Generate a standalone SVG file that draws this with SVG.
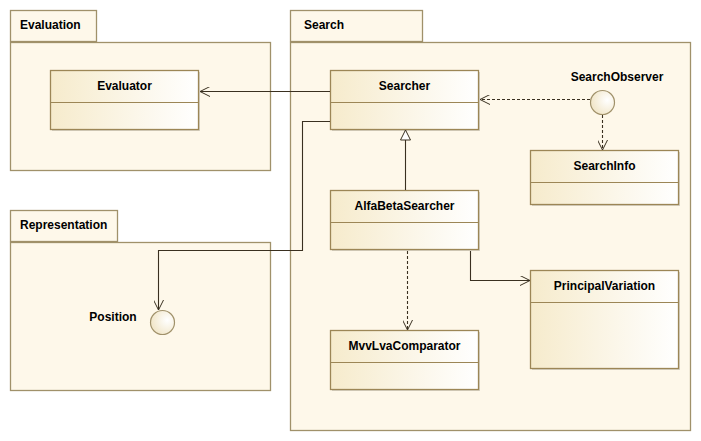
<svg xmlns="http://www.w3.org/2000/svg" width="701" height="441" viewBox="0 0 701 441">
<defs>
<linearGradient id="cg" x1="0" y1="0" x2="1" y2="0">
<stop offset="0" stop-color="#f6ebcc"/>
<stop offset="1" stop-color="#ffffff"/>
</linearGradient>
<radialGradient id="ig" cx="0.7" cy="0.4" r="0.8">
<stop offset="0" stop-color="#ffffff"/>
<stop offset="1" stop-color="#efe2c0"/>
</radialGradient>
<marker id="open" markerWidth="12" markerHeight="10" refX="10" refY="5" orient="auto" markerUnits="userSpaceOnUse">
<path d="M0,0 L10,5 L0,10" fill="none" stroke="#3a3020" stroke-width="1"/>
</marker>
<marker id="tri" markerWidth="14" markerHeight="12" refX="11" refY="6" orient="auto" markerUnits="userSpaceOnUse">
<path d="M1,1 L11,6 L1,11 Z" fill="#ffffff" stroke="#3a3020" stroke-width="1"/>
</marker>
</defs>
<style>
.pkg{fill:#fef8ea;stroke:#a0916a;stroke-width:1.3}
.cls{fill:url(#cg);stroke:#9c8656;stroke-width:1.3}
.sh{fill:#d8d2c4}
.div{stroke:#9c8656;stroke-width:1.2}
.ifc{fill:url(#ig);stroke:#a0916a;stroke-width:1.2}
text{font-family:"Liberation Sans",Arial,sans-serif;font-weight:bold;font-size:12px;fill:#000}
.c{text-anchor:middle}
.ln{fill:none;stroke:#3a3020;stroke-width:1.1}
.dash{stroke-dasharray:3,2}
</style>
<g id="pkg-evaluation">
<rect class="pkg" x="10.5" y="10.5" width="86" height="31"/>
<rect class="pkg" x="10.5" y="42.5" width="260" height="128"/>
<text x="20" y="29">Evaluation</text>
</g>
<g id="pkg-search">
<rect class="pkg" x="290.5" y="10.5" width="132" height="31"/>
<rect class="pkg" x="290.5" y="42.5" width="400" height="388"/>
<text x="304" y="29">Search</text>
</g>
<g id="pkg-representation">
<rect class="pkg" x="10.5" y="210.5" width="107" height="31"/>
<rect class="pkg" x="10.5" y="242.5" width="260" height="148"/>
<text x="20" y="229">Representation</text>
</g>
<g id="Evaluator">
<rect class="sh" x="52" y="72" width="148" height="59"/>
<rect class="cls" x="50.5" y="70.5" width="148" height="59"/>
<line class="div" x1="51" y1="102.5" x2="198" y2="102.5"/>
<text class="c" x="124.5" y="90">Evaluator</text>
</g>
<g id="Searcher">
<rect class="sh" x="332" y="72" width="148" height="59"/>
<rect class="cls" x="330.5" y="70.5" width="148" height="59"/>
<line class="div" x1="331" y1="102.5" x2="478" y2="102.5"/>
<text class="c" x="404.5" y="90">Searcher</text>
</g>
<g id="SearchInfo">
<rect class="sh" x="532" y="152" width="148" height="54"/>
<rect class="cls" x="530.5" y="150.5" width="148" height="54"/>
<line class="div" x1="531" y1="182.5" x2="678" y2="182.5"/>
<text class="c" x="604.5" y="170">SearchInfo</text>
</g>
<g id="AlfaBetaSearcher">
<rect class="sh" x="332" y="192" width="148" height="59"/>
<rect class="cls" x="330.5" y="190.5" width="148" height="59"/>
<line class="div" x1="331" y1="222.5" x2="478" y2="222.5"/>
<text class="c" x="404.5" y="210">AlfaBetaSearcher</text>
</g>
<g id="MvvLvaComparator">
<rect class="sh" x="332" y="332" width="148" height="59"/>
<rect class="cls" x="330.5" y="330.5" width="148" height="59"/>
<line class="div" x1="331" y1="362.5" x2="478" y2="362.5"/>
<text class="c" x="404.5" y="350">MvvLvaComparator</text>
</g>
<g id="PrincipalVariation">
<rect class="sh" x="532" y="272" width="148" height="98"/>
<rect class="cls" x="530.5" y="270.5" width="148" height="98"/>
<line class="div" x1="531" y1="302.5" x2="678" y2="302.5"/>
<text class="c" x="604.5" y="290">PrincipalVariation</text>
</g>
<g id="SearchObserver">
<circle class="ifc" cx="602.5" cy="102.5" r="12"/>
<text class="c" x="617" y="81">SearchObserver</text>
</g>
<g id="Position">
<circle class="ifc" cx="162.5" cy="322.5" r="12"/>
<text class="c" x="113" y="321">Position</text>
</g>
<g id="connectors">
<path class="ln" d="M330,91.5 H200" marker-end="url(#open)"/>
<path class="ln dash" d="M590,99.5 H480" marker-end="url(#open)"/>
<path class="ln dash" d="M602.5,115 V150" marker-end="url(#open)"/>
<path class="ln" d="M405.5,190 V130" marker-end="url(#tri)"/>
<path class="ln" d="M330,121.5 H302.5 V250.5 H158.5 V310" marker-end="url(#open)"/>
<path class="ln dash" d="M407.5,251 V330" marker-end="url(#open)"/>
<path class="ln" d="M470.5,251 V280.5 H530" marker-end="url(#open)"/>
</g>
</svg>
